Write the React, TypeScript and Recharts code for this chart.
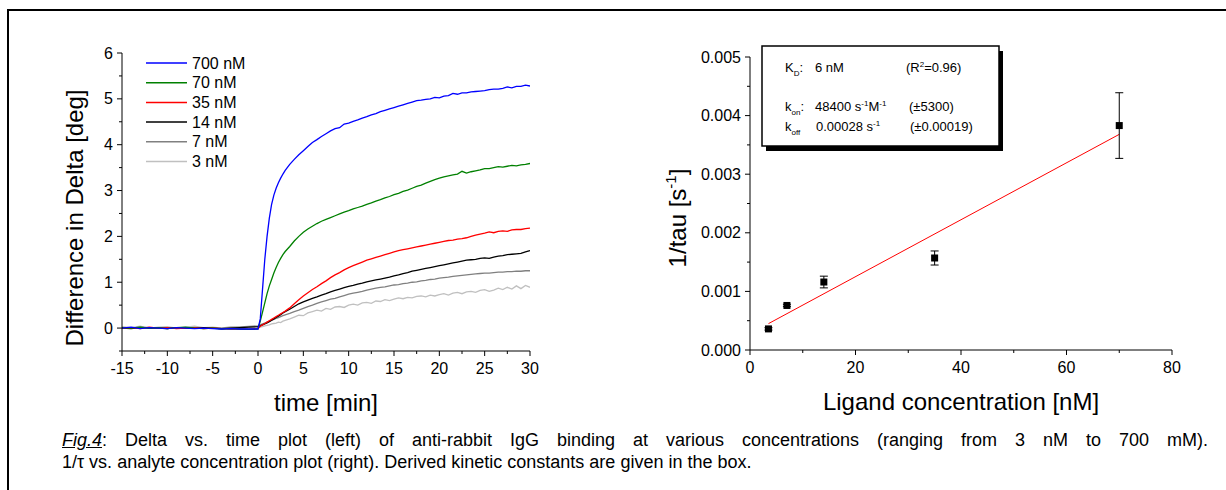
import React from 'react';
import { LineChart, Line, XAxis, YAxis, ComposedChart, Scatter, ErrorBar } from 'recharts';

const FONT = '"Liberation Sans", Arial, Helvetica, sans-serif';

// ---------- Left plot: Delta vs time ----------
const timeMin = [
  -15, -14, -13, -12, -11, -10, -9, -8, -7, -6, -5, -4, -3, -2, -1,
  0, 0.25, 0.5, 0.75, 1, 1.25, 1.5, 1.75, 2, 2.25, 2.5, 2.75, 3,
  3.5, 4, 4.5, 5, 5.5, 6, 6.5, 7, 7.5, 8, 8.5, 9, 9.5, 10, 10.5, 11, 11.5, 12, 12.5, 13, 13.5, 14,
  14.5, 15, 15.5, 16, 16.5, 17, 17.5, 18, 18.5, 19, 19.5, 20, 20.5, 21, 21.5, 22, 22.5, 23, 23.5,
  24, 24.5, 25, 25.5, 26, 26.5, 27, 27.5, 28, 28.5, 29, 29.5, 30,
];

const delta700 = [
  0.00, 0.02, -0.01, 0.01, 0.00, -0.01, 0.01, 0.00, -0.01, 0.00, -0.01, -0.02, -0.01, -0.02, -0.02,
  -0.02, 0.20, 0.85, 1.50, 2.00, 2.40, 2.70, 2.90, 3.05, 3.17, 3.27, 3.36, 3.44,
  3.57, 3.68, 3.78, 3.87, 3.96, 4.05, 4.11, 4.18, 4.24, 4.30, 4.35, 4.37, 4.45, 4.47, 4.51, 4.54, 4.58, 4.61, 4.65, 4.68, 4.72, 4.75,
  4.78, 4.81, 4.84, 4.87, 4.90, 4.93, 4.96, 4.97, 4.99, 5.00, 5.03, 5.02, 5.06, 5.07, 5.12, 5.10, 5.13, 5.13, 5.15,
  5.16, 5.17, 5.18, 5.20, 5.21, 5.21, 5.23, 5.26, 5.24, 5.27, 5.27, 5.30, 5.28,
];
const delta70 = [
  0.01, 0.00, 0.02, 0.00, 0.01, -0.01, 0.01, 0.02, 0.00, -0.01, 0.00, -0.02, -0.01, -0.02, -0.03,
  -0.02, 0.15, 0.35, 0.55, 0.75, 0.92, 1.06, 1.20, 1.32, 1.43, 1.52, 1.60, 1.67,
  1.78, 1.90, 2.00, 2.09, 2.16, 2.22, 2.28, 2.33, 2.37, 2.41, 2.45, 2.49, 2.53, 2.56, 2.60, 2.63, 2.66, 2.70, 2.73, 2.77, 2.80, 2.84,
  2.87, 2.91, 2.94, 2.98, 3.01, 3.05, 3.09, 3.12, 3.16, 3.20, 3.24, 3.27, 3.30, 3.32, 3.34, 3.36, 3.42, 3.38, 3.41,
  3.43, 3.45, 3.48, 3.48, 3.50, 3.52, 3.51, 3.53, 3.55, 3.54, 3.56, 3.57, 3.59,
];
const delta35 = [
  0.00, 0.01, -0.01, 0.02, 0.00, 0.01, -0.01, 0.00, 0.01, -0.01, 0.00, -0.01, -0.02, -0.02, -0.03,
  -0.01, 0.04, 0.07, 0.10, 0.13, 0.16, 0.19, 0.22, 0.25, 0.28, 0.31, 0.34, 0.37,
  0.44, 0.53, 0.62, 0.70, 0.77, 0.84, 0.90, 0.97, 1.03, 1.10, 1.16, 1.21, 1.27, 1.32, 1.36, 1.40, 1.44, 1.48, 1.51, 1.54, 1.57, 1.60,
  1.63, 1.66, 1.69, 1.71, 1.73, 1.75, 1.77, 1.79, 1.81, 1.83, 1.85, 1.87, 1.89, 1.91, 1.92, 1.94, 1.95, 1.97, 2.00,
  2.03, 2.05, 2.07, 2.10, 2.08, 2.11, 2.12, 2.11, 2.14, 2.15, 2.15, 2.17, 2.18,
];
const delta14 = [
  0.00, -0.01, 0.01, 0.00, 0.00, -0.01, 0.01, 0.00, 0.00, 0.01, 0.00, -0.01, 0.00, 0.01, 0.02,
  0.03, 0.05, 0.07, 0.09, 0.11, 0.14, 0.17, 0.20, 0.23, 0.26, 0.29, 0.33, 0.36,
  0.41, 0.47, 0.53, 0.57, 0.61, 0.65, 0.68, 0.72, 0.75, 0.79, 0.82, 0.85, 0.88, 0.91, 0.93, 0.96, 0.98, 1.01, 1.03, 1.05, 1.07, 1.09,
  1.11, 1.14, 1.16, 1.19, 1.21, 1.24, 1.26, 1.28, 1.30, 1.32, 1.34, 1.36, 1.38, 1.40, 1.42, 1.44, 1.46, 1.48, 1.49,
  1.50, 1.52, 1.53, 1.52, 1.55, 1.57, 1.58, 1.60, 1.61, 1.62, 1.63, 1.66, 1.69,
];
const delta7 = [
  0.01, 0.00, 0.02, 0.01, 0.00, 0.01, 0.00, 0.01, 0.00, 0.01, 0.00, 0.00, 0.01, 0.02, 0.03,
  0.05, 0.07, 0.09, 0.11, 0.13, 0.15, 0.17, 0.19, 0.21, 0.23, 0.25, 0.27, 0.29,
  0.32, 0.36, 0.39, 0.43, 0.47, 0.50, 0.54, 0.57, 0.60, 0.63, 0.65, 0.68, 0.71, 0.74, 0.76, 0.78, 0.80, 0.83, 0.85, 0.87, 0.89, 0.90,
  0.92, 0.94, 0.95, 0.97, 0.98, 1.00, 1.01, 1.03, 1.04, 1.06, 1.07, 1.09, 1.10, 1.11, 1.13, 1.14, 1.15, 1.16, 1.17,
  1.18, 1.19, 1.20, 1.20, 1.21, 1.22, 1.22, 1.23, 1.23, 1.24, 1.24, 1.25, 1.25,
];
const delta3 = [
  0.03, 0.01, 0.04, 0.00, 0.02, 0.03, 0.00, 0.02, 0.04, 0.01, 0.02, 0.00, 0.03, 0.02, 0.04,
  0.03, 0.02, 0.03, 0.05, 0.06, 0.07, 0.09, 0.10, 0.11, 0.13, 0.12, 0.15, 0.17,
  0.20, 0.24, 0.28, 0.27, 0.33, 0.36, 0.39, 0.37, 0.43, 0.41, 0.46, 0.47, 0.45, 0.50, 0.52, 0.50, 0.55, 0.56, 0.54, 0.59, 0.58, 0.62,
  0.60, 0.63, 0.66, 0.64, 0.67, 0.66, 0.69, 0.70, 0.68, 0.72, 0.70, 0.73, 0.75, 0.72, 0.76, 0.78, 0.75, 0.79, 0.80,
  0.78, 0.82, 0.84, 0.80, 0.83, 0.87, 0.84, 0.89, 0.85, 0.92, 0.86, 0.93, 0.89,
];

const seriesList = [
  { key: 's700', name: '700 nM', color: '#0000FF', values: delta700 },
  { key: 's70', name: '70 nM', color: '#008000', values: delta70 },
  { key: 's35', name: '35 nM', color: '#FF0000', values: delta35 },
  { key: 's14', name: '14 nM', color: '#000000', values: delta14 },
  { key: 's7', name: '7 nM', color: '#808080', values: delta7 },
  { key: 's3', name: '3 nM', color: '#C0C0C0', values: delta3 },
];

const leftXTicks = [-15, -12.5, -10, -7.5, -5, -2.5, 0, 2.5, 5, 7.5, 10, 12.5, 15, 17.5, 20, 22.5, 25, 27.5, 30];
const leftYTicks = [-0.5, 0, 0.5, 1, 1.5, 2, 2.5, 3, 3.5, 4, 4.5, 5, 5.5, 6];

const leftData = timeMin.map((t, i) => {
  const row: Record<string, number> = { t };
  seriesList.forEach((s) => { row[s.key] = s.values[i]; });
  return row;
});

// ---------- Right plot: 1/tau vs concentration ----------
const concentration = [3.5, 7, 14, 35, 70];
const invTau = [0.00036, 0.00076, 0.00116, 0.00157, 0.00383];
const invTauErr = [0.00002, 0.00002, 0.0001, 0.00012, 0.00056];
const fitConc = [3.5, 70];
const fitInvTau = [0.00045, 0.00368];

const rightXTicks = [0, 10, 20, 30, 40, 50, 60, 70, 80];
const rightYTicks = [0, 0.0005, 0.001, 0.0015, 0.002, 0.0025, 0.003, 0.0035, 0.004, 0.0045, 0.005];

const pointData = concentration.map((x, i) => ({ x, y: invTau[i], err: invTauErr[i] }));
const fitData = fitConc.map((x, i) => ({ x, y: fitInvTau[i] }));

const TICK_FONT = 16;

const LeftYTick = (props: any) => {
  const { x, y, payload } = props;
  const v = payload.value;
  const major = Number.isInteger(v);
  return (
    <g>
      <line x1={x - (major ? 5 : 3)} x2={x} y1={y} y2={y} stroke="#000" strokeWidth={1} />
      {major && (
        <text x={x - 9} y={y} textAnchor="end" dominantBaseline="central" fontSize={TICK_FONT} fontFamily={FONT} fill="#000">
          {v}
        </text>
      )}
    </g>
  );
};

const LeftXTick = (props: any) => {
  const { x, y, payload } = props;
  const v = payload.value;
  const major = v % 5 === 0;
  return (
    <g>
      <line x1={x} x2={x} y1={y} y2={y + (major ? 5 : 3)} stroke="#000" strokeWidth={1} />
      {major && (
        <text x={x} y={y + 17} textAnchor="middle" dominantBaseline="central" fontSize={TICK_FONT} fontFamily={FONT} fill="#000">
          {v}
        </text>
      )}
    </g>
  );
};

const RightYTick = (props: any) => {
  const { x, y, payload } = props;
  const v = payload.value;
  const major = Math.round(v * 10000) % 10 === 0;
  return (
    <g>
      <line x1={x - (major ? 5 : 3)} x2={x} y1={y} y2={y} stroke="#000" strokeWidth={1} />
      {major && (
        <text x={x - 9} y={y} textAnchor="end" dominantBaseline="central" fontSize={TICK_FONT} fontFamily={FONT} fill="#000">
          {v.toFixed(3)}
        </text>
      )}
    </g>
  );
};

const RightXTick = (props: any) => {
  const { x, y, payload } = props;
  const v = payload.value;
  const major = v % 20 === 0;
  return (
    <g>
      <line x1={x} x2={x} y1={y} y2={y + (major ? 5 : 3)} stroke="#000" strokeWidth={1} />
      {major && (
        <text x={x} y={y + 17} textAnchor="middle" dominantBaseline="central" fontSize={TICK_FONT} fontFamily={FONT} fill="#000">
          {v}
        </text>
      )}
    </g>
  );
};

const SquareDot = (props: any) => {
  const { cx, cy } = props;
  if (cx == null || cy == null) return null;
  return <rect x={cx - 3.5} y={cy - 3.5} width={7} height={7} fill="#000" />;
};

export default function App() {
  return (
    <div
      style={{
        position: 'fixed',
        left: 0,
        top: 0,
        width: 1226,
        height: 490,
        overflow: 'hidden',
        background: '#fff',
        fontFamily: FONT,
      }}
    >
      {/* outer frame */}
      <div
        style={{
          position: 'absolute',
          left: 7,
          top: 9,
          width: 1400,
          height: 700,
          border: '2px solid #000',
          boxSizing: 'border-box',
        }}
      />

      {/* left chart */}
      <div style={{ position: 'absolute', left: 0, top: 0 }}>
        <LineChart width={560} height={430} data={leftData} margin={{ top: 53, right: 30, bottom: 49, left: 0 }}>
          <XAxis
            type="number"
            dataKey="t"
            domain={[-15, 30]}
            ticks={leftXTicks}
            interval={0}
            allowDataOverflow
            height={30}
            tickSize={0}
            tickMargin={0}
            tickLine={false}
            axisLine={{ stroke: '#000', strokeWidth: 1 }}
            tick={<LeftXTick />}
          />
          <YAxis
            type="number"
            domain={[-0.5, 6]}
            ticks={leftYTicks}
            interval={0}
            allowDataOverflow
            width={122}
            tickSize={0}
            tickMargin={0}
            tickLine={false}
            axisLine={{ stroke: '#000', strokeWidth: 1 }}
            tick={<LeftYTick />}
          />
          {[...seriesList].reverse().map((s) => (
            <Line
              key={s.key}
              type="linear"
              dataKey={s.key}
              name={s.name}
              stroke={s.color}
              strokeWidth={1.3}
              dot={false}
              isAnimationActive={false}
            />
          ))}
        </LineChart>
      </div>

      {/* right chart */}
      <div style={{ position: 'absolute', left: 600, top: 0 }}>
        <ComposedChart width={626} height={430} margin={{ top: 57, right: 54, bottom: 50, left: 0 }}>
          <XAxis
            type="number"
            dataKey="x"
            domain={[0, 80]}
            ticks={rightXTicks}
            interval={0}
            allowDataOverflow
            height={30}
            tickSize={0}
            tickMargin={0}
            tickLine={false}
            axisLine={{ stroke: '#000', strokeWidth: 1 }}
            tick={<RightXTick />}
          />
          <YAxis
            type="number"
            dataKey="y"
            domain={[0, 0.005]}
            ticks={rightYTicks}
            interval={0}
            allowDataOverflow
            width={150}
            tickSize={0}
            tickMargin={0}
            tickLine={false}
            axisLine={{ stroke: '#000', strokeWidth: 1 }}
            tick={<RightYTick />}
          />
          <Line
            data={fitData}
            type="linear"
            dataKey="y"
            stroke="#FF0000"
            strokeWidth={1}
            dot={false}
            isAnimationActive={false}
          />
          <Scatter data={pointData} dataKey="y" shape={<SquareDot />} isAnimationActive={false}>
            <ErrorBar dataKey="err" direction="y" width={4} stroke="#000" strokeWidth={1} />
          </Scatter>
        </ComposedChart>
      </div>

      {/* overlay: titles, legend, info box */}
      <svg width={1226} height={490} style={{ position: 'absolute', left: 0, top: 0, pointerEvents: 'none' }} fontFamily={FONT}>
        {/* left legend */}
        {seriesList.map((s, i) => (
          <g key={s.key}>
            <line x1={146} x2={187} y1={63 + i * 19.7} y2={63 + i * 19.7} stroke={s.color} strokeWidth={1.5} />
            <text x={192} y={63 + i * 19.7} dominantBaseline="central" fontSize={16} fill="#000">
              {s.name}
            </text>
          </g>
        ))}

        {/* left axis titles */}
        <text x={83} y={218} transform="rotate(-90 83 218)" textAnchor="middle" fontSize={24} fill="#000">
          Difference in Delta [deg]
        </text>
        <text x={326} y={411} textAnchor="middle" fontSize={24} fill="#000">
          time [min]
        </text>

        {/* right axis titles */}
        <text x={686} y={218} transform="rotate(-90 686 218)" textAnchor="middle" fontSize={24} fill="#000">
          1/tau [s<tspan dy={-10} fontSize={15}>-1</tspan>
          <tspan dy={10}>]</tspan>
        </text>
        <text x={961} y={410} textAnchor="middle" fontSize={24} fill="#000">
          Ligand concentration [nM]
        </text>

        {/* info box */}
        <rect x={766} y={51} width={237} height={100} fill="#000" />
        <rect x={762} y={46} width={237} height={100} fill="#fff" stroke="#000" strokeWidth={1.5} />
        <g fontSize={13} fill="#000">
          <text x={785} y={72}>
            K<tspan dy={4} fontSize={8}>D</tspan>
            <tspan dy={-4}>:</tspan>
          </text>
          <text x={815} y={72}>6 nM</text>
          <text x={906} y={72}>
            (R<tspan dy={-5} fontSize={8}>2</tspan>
            <tspan dy={5}>=0.96)</tspan>
          </text>

          <text x={785} y={111}>
            k<tspan dy={4} fontSize={8}>on</tspan>
            <tspan dy={-4}>:</tspan>
          </text>
          <text x={815} y={111}>
            48400 s<tspan dy={-5} fontSize={8}>-1</tspan>
            <tspan dy={5}>M</tspan>
            <tspan dy={-5} fontSize={8}>-1</tspan>
          </text>
          <text x={909} y={111}>(±5300)</text>

          <text x={785} y={131}>
            k<tspan dy={4} fontSize={8}>off</tspan>
          </text>
          <text x={816} y={131}>
            0.00028 s<tspan dy={-5} fontSize={8}>-1</tspan>
          </text>
          <text x={910} y={131}>(±0.00019)</text>
        </g>
      </svg>

      {/* caption */}
      <div
        style={{
          position: 'absolute',
          left: 62,
          top: 429,
          width: 1146,
          fontSize: 18,
          lineHeight: '22px',
          color: '#000',
          fontFamily: FONT,
        }}
      >
        <div style={{ textAlign: 'justify', textAlignLast: 'justify', whiteSpace: 'nowrap' }}>
          <span style={{ fontStyle: 'italic', textDecoration: 'underline' }}>Fig.4</span>: Delta vs. time plot (left) of
          anti-rabbit IgG binding at various concentrations (ranging from 3 nM to 700 mM).
        </div>
        <div style={{ whiteSpace: 'nowrap' }}>
          1/τ vs. analyte concentration plot (right). Derived kinetic constants are given in the box.
        </div>
      </div>
    </div>
  );
}
